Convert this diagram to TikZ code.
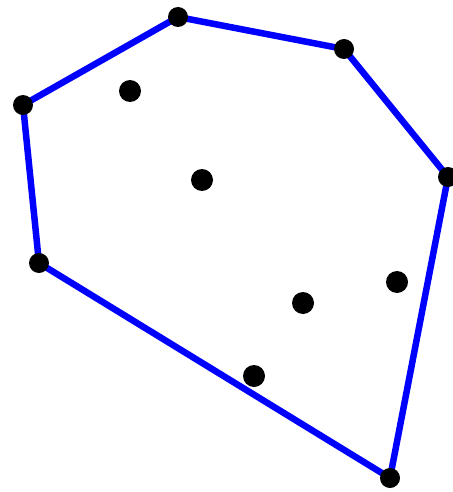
\documentclass[tikz,border=0pt]{standalone}
\usepackage{tikz}
\usetikzlibrary{calc}
\definecolor{hullblue}{HTML}{0000FF}

\begin{document}
\begin{tikzpicture}[x=1pt,y=-1pt]
  \useasboundingbox (0,0) rectangle (452,492);
  % hull vertices
  \coordinate (h1) at (178,17);
  \coordinate (h2) at (344,49);
  \coordinate (h3) at (448,177);
  \coordinate (h4) at (390,478);
  \coordinate (h5) at (39,263);
  \coordinate (h6) at (23,105);
  % inner points
  \coordinate (p1) at (130,91);
  \coordinate (p2) at (202,180);
  \coordinate (p3) at (303,303);
  \coordinate (p4) at (397,282);
  \coordinate (p5) at (254,376);
  \draw[line width=6.5pt,hullblue,line join=round] (h1) -- (h2) -- (h3) -- (h4) -- (h5) -- (h6) -- cycle;
  \foreach \p in {h1,h2,h3,h4,h5,h6} \fill[black] (\p) circle (10pt);
  \foreach \p in {p1,p2,p3,p4,p5} \fill[black] (\p) circle (11pt);
\end{tikzpicture}
\end{document}
